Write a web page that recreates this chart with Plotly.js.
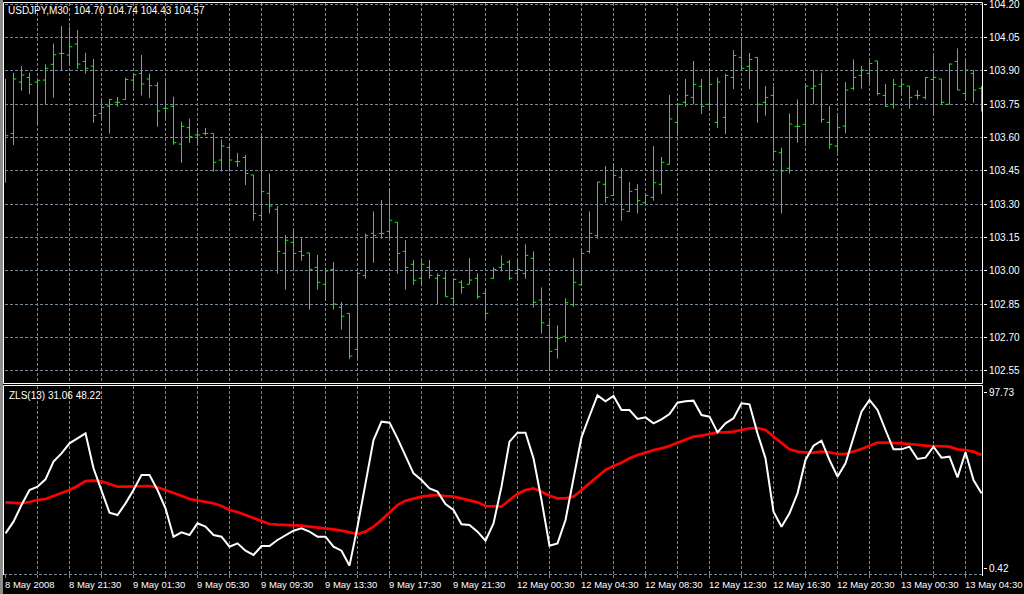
<!DOCTYPE html>
<html>
<head>
<meta charset="utf-8">
<script src="https://cdn.plot.ly/plotly-3.0.1.min.js"></script>
<style>
html,body{margin:0;padding:0;background:#000;}
#chart{width:1024px;height:594px;}
</style>
</head>
<body>
<div id="chart"></div>
<script>
// ---- Data (USDJPY M30 bars, index 0 = 8 May 2008 17:30) ----
const barOpen = [103.750,103.619,103.850,103.871,103.850,103.859,103.930,103.979,103.972,104.021,
103.943,103.922,103.709,103.742,103.759,103.772,103.859,103.889,103.864,103.834,
103.732,103.741,103.571,103.645,103.612,103.619,103.619,103.499,103.555,103.492,
103.511,103.432,103.250,103.349,103.277,103.079,103.129,103.088,103.081,103.016,
102.940,103.007,102.836,102.809,102.647,102.980,103.169,103.169,103.178,103.219,
103.088,103.030,102.967,103.016,102.967,102.967,102.877,102.949,102.940,102.967,
102.899,102.967,103.016,103.040,102.989,102.989,103.057,102.869,102.755,102.647,
102.706,102.848,102.938,103.088,103.160,103.390,103.340,103.421,103.268,103.367,
103.307,103.331,103.390,103.480,103.669,103.759,103.781,103.831,103.750,103.669,
103.691,103.871,103.961,103.921,103.961,103.759,103.790,103.532,103.462,103.651,
103.660,103.822,103.840,103.669,103.562,103.652,103.822,103.880,103.889,103.945,
103.790,103.750,103.831,103.832,103.790,103.781,103.862,103.864,103.750,103.943,
103.799,103.889,103.822];
const barHigh = [103.864,103.891,103.922,103.892,103.859,103.930,104.023,104.102,104.099,104.084,
103.982,103.954,103.777,103.774,103.783,103.870,103.889,103.972,103.889,103.850,
103.858,103.784,103.672,103.685,103.643,103.643,103.619,103.592,103.567,103.531,
103.522,103.432,103.619,103.439,103.292,103.162,103.181,103.147,103.081,103.072,
103.015,103.040,102.860,102.809,102.997,103.169,103.268,103.319,103.372,103.219,
103.139,103.049,103.049,103.049,102.989,102.998,102.962,102.958,103.058,102.989,
102.920,103.016,103.070,103.049,103.049,103.120,103.088,102.926,102.776,102.755,
102.877,103.057,103.102,103.268,103.400,103.472,103.481,103.463,103.400,103.391,
103.349,103.562,103.513,103.792,103.756,103.864,103.945,103.864,103.907,103.871,
103.888,103.994,104.047,103.981,103.961,103.832,103.831,103.555,103.709,103.772,
103.835,103.904,103.892,103.742,103.697,103.850,103.952,103.922,103.945,103.945,
103.841,103.864,103.864,103.832,103.814,103.873,103.972,103.864,103.934,104.002,
103.945,103.904,103.832];
const barLow = [103.397,103.567,103.811,103.796,103.660,103.750,103.780,103.903,103.930,103.910,
103.888,103.667,103.681,103.618,103.739,103.772,103.820,103.790,103.778,103.649,
103.685,103.568,103.487,103.577,103.568,103.610,103.447,103.447,103.447,103.469,
103.387,103.226,103.228,103.259,102.988,102.916,103.006,103.046,102.826,102.916,
102.866,102.826,102.736,102.604,102.607,102.965,103.037,103.145,103.147,102.988,
102.916,102.938,102.931,102.965,102.850,102.884,102.850,102.898,102.940,102.875,
102.785,102.965,102.998,102.958,102.958,102.965,102.835,102.718,102.553,102.605,
102.679,102.839,102.935,103.079,103.145,103.307,103.337,103.226,103.268,103.259,
103.301,103.316,103.346,103.480,103.606,103.739,103.750,103.706,103.727,103.643,
103.616,103.819,103.907,103.819,103.667,103.699,103.499,103.259,103.438,103.577,
103.577,103.750,103.667,103.550,103.532,103.619,103.813,103.820,103.847,103.790,
103.739,103.730,103.795,103.730,103.772,103.772,103.699,103.750,103.750,103.814,
103.768,103.757,103.717];
const barClose = [103.609,103.864,103.882,103.840,103.858,103.912,103.973,103.979,104.009,103.931,
103.912,103.700,103.736,103.772,103.759,103.862,103.883,103.841,103.834,103.720,
103.732,103.577,103.651,103.604,103.612,103.619,103.489,103.562,103.499,103.492,
103.439,103.259,103.357,103.292,103.088,103.138,103.079,103.070,103.007,102.949,
103.000,102.851,102.796,102.617,102.989,103.160,103.160,103.169,103.228,103.079,
103.016,102.958,103.030,102.980,102.980,102.884,102.962,102.926,102.959,102.884,
102.809,103.007,103.030,102.967,103.007,103.070,102.859,102.767,102.638,102.697,
102.857,102.949,103.079,103.169,103.400,103.331,103.430,103.277,103.358,103.316,
103.340,103.397,103.489,103.684,103.750,103.790,103.840,103.741,103.840,103.850,
103.880,103.970,103.912,103.952,103.750,103.781,103.538,103.450,103.661,103.651,
103.832,103.832,103.682,103.570,103.645,103.814,103.871,103.904,103.934,103.798,
103.741,103.840,103.840,103.781,103.790,103.871,103.871,103.759,103.931,103.814,
103.904,103.814,103.825];

// ZLS(13) indicator: main (white) and signal (red)
const zlsMain = [19.80,26.27,35.50,43.81,45.66,49.73,59.51,64.13,69.67,72.44,
75.21,55.82,43.81,31.25,29.96,36.42,43.81,52.12,52.12,43.81,
33.65,17.95,20.35,18.88,25.34,23.49,18.88,17.95,12.41,14.26,
10.20,7.80,12.78,12.78,16.11,18.88,21.28,22.57,20.73,17.95,
17.95,12.41,10.20,1.89,23.49,47.51,71.52,81.68,81.13,72.44,
63.21,53.05,49.36,44.74,42.89,36.06,32.73,24.79,24.42,20.73,
15.74,25.34,45.66,70.60,75.59,75.59,61.36,38.27,12.97,14.26,
27.19,49.36,73.00,84.82,96.27,92.95,95.90,88.14,88.14,83.16,
84.08,80.75,82.97,85.93,92.21,92.95,93.32,85.37,84.45,75.77,
80.75,83.53,91.84,91.29,75.21,61.36,31.81,23.49,30.88,41.97,
60.44,68.38,71.15,60.44,51.20,58.59,72.44,87.22,93.69,88.14,
77.06,66.35,66.35,67.83,60.99,61.73,67.83,61.73,62.29,50.83,
64.69,49.36,41.97];
const zlsSignal = [36.98,36.80,36.42,37.17,38.27,38.83,40.49,41.97,43.81,46.03,
48.80,48.99,48.62,47.14,45.66,45.66,45.66,46.03,46.03,45.29,
43.81,42.34,40.68,38.83,37.90,37.17,36.42,34.95,32.73,31.62,
29.96,28.12,26.27,24.98,24.61,24.42,24.42,24.05,23.49,23.13,
22.57,22.02,21.28,20.17,19.43,20.73,23.49,27.19,31.25,35.50,
37.90,39.20,40.12,40.68,41.05,40.49,40.12,39.20,37.90,36.98,
34.95,34.58,34.58,38.27,41.60,43.81,44.74,42.89,40.68,39.20,
39.20,40.12,43.81,47.51,51.20,54.90,57.11,58.96,61.36,63.21,
64.50,65.98,66.90,68.20,70.04,71.52,73.37,73.92,74.85,75.77,
75.77,76.14,77.06,77.99,78.17,77.06,73.37,69.67,66.35,65.06,
64.50,64.50,65.06,64.69,63.76,63.76,65.06,66.53,68.38,70.04,
70.04,70.04,69.67,69.31,68.75,68.38,68.20,67.83,67.83,66.35,
65.98,65.06,63.21];

const timeTickIndex = [0,8,16,24,32,40,48,56,64,72,80,88,96,104,112,120];
const timeTickText = ['8 May 2008','8 May 21:30','9 May 01:30','9 May 05:30','9 May 09:30',
'9 May 13:30','9 May 17:30','9 May 21:30','12 May 00:30','12 May 04:30','12 May 08:30',
'12 May 12:30','12 May 16:30','12 May 20:30','13 May 00:30','13 May 04:30'];
const priceTicks = [102.55,102.70,102.85,103.00,103.15,103.30,103.45,103.60,103.75,103.90,104.05,104.20];
const zlsTicks = [0.42,97.73];
const headerText = 'USDJPY,M30\u00a0\u00a0104.70 104.74 104.43 104.57';
const zlsLabel = 'ZLS(13) 31.06 48.22';

// ---- Build ----
const W = 1024, H = 594, ML = 5, MR = 41, MT = 3, MB = 20;
const PW = W - ML - MR, PH = H - MT - MB;
const px = v => (v - ML) / PW;
const py = v => (H - MB - v) / PH;

const idx = barOpen.map((_, i) => i);
const GREEN = '#1ee61e';
const GRID = '#778899';
const FONT = 'Liberation Sans, Arial, sans-serif';

const traces = [
  {type:'ohlc', x:idx, open:barOpen, high:barHigh, low:barLow, close:barClose,
   xaxis:'x', yaxis:'y', tickwidth:0.35,
   increasing:{line:{color:GREEN, width:1}}, decreasing:{line:{color:GREEN, width:1}},
   hoverinfo:'skip'},
  {type:'scatter', mode:'lines', x:idx, y:zlsSignal, xaxis:'x', yaxis:'y2',
   line:{color:'#ff0000', width:2.7}, hoverinfo:'skip'},
  {type:'scatter', mode:'lines', x:idx, y:zlsMain, xaxis:'x', yaxis:'y2',
   line:{color:'#ffffff', width:2}, hoverinfo:'skip'}
];

const annotations = [
  {xref:'paper', yref:'paper', x:px(6), y:py(10.5), xanchor:'left', yanchor:'middle',
   text:headerText, showarrow:false, font:{color:'#fff', size:10, family:FONT}},
  {xref:'paper', yref:'paper', x:px(7), y:py(395.5), xanchor:'left', yanchor:'middle',
   text:zlsLabel, showarrow:false, font:{color:'#fff', size:10, family:FONT}}
];
timeTickIndex.forEach((k, i) => {
  annotations.push({xref:'x', yref:'paper', x:k, y:py(584), xanchor:'left', yanchor:'middle',
    xshift:-3, text:timeTickText[i], showarrow:false, font:{color:'#fff', size:9.5, family:FONT}});
});

const shapes = [
  {type:'rect', xref:'paper', yref:'paper', x0:px(0), x1:px(3), y0:py(594), y1:py(0),
   fillcolor:'#8c8c8c', line:{width:0}},
  {type:'rect', xref:'paper', yref:'paper', x0:px(3.5), x1:px(982.5), y0:py(383.5), y1:py(2.5),
   fillcolor:'rgba(0,0,0,0)', line:{color:'#ffffff', width:1}},
  {type:'line', xref:'paper', yref:'paper', x0:px(3.5), x1:px(982.5), y0:py(385.5), y1:py(385.5),
   line:{color:'#ffffff', width:1}},
  {type:'line', xref:'paper', yref:'paper', x0:px(3.5), x1:px(3.5), y0:py(385.5), y1:py(575),
   line:{color:'#ffffff', width:1}},
  {type:'line', xref:'paper', yref:'paper', x0:px(982.5), x1:px(982.5), y0:py(385.5), y1:py(576),
   line:{color:'#ffffff', width:1}},
  {type:'line', xref:'paper', yref:'paper', x0:px(4), x1:px(982), y0:py(574.5), y1:py(574.5),
   line:{color:GRID, width:1, dash:'3px,2px'}}
];

const layout = {
  width:W, height:H,
  margin:{l:ML, r:MR, t:MT, b:MB, pad:0},
  paper_bgcolor:'#000000', plot_bgcolor:'#000000',
  showlegend:false,
  font:{family:FONT, size:10, color:'#ffffff'},
  xaxis:{range:[-0.0625, 122.1875], anchor:'y2', rangeslider:{visible:false},
    tickmode:'linear', tick0:4, dtick:4, showticklabels:false,
    ticks:'outside', ticklen:3, tickcolor:GRID,
    showgrid:true, gridcolor:GRID, gridwidth:1, griddash:'3px,2px',
    zeroline:false, showline:false, fixedrange:true},
  yaxis:{domain:[py(383), 1], range:[102.4957, 104.2059], side:'right', anchor:'x',
    tickmode:'array', tickvals:priceTicks, ticktext:priceTicks.map(v => v.toFixed(2)),
    ticks:'outside', ticklen:3, tickcolor:'#ffffff', ticklabeloverflow:'allow',
    tickfont:{color:'#ffffff', size:10, family:FONT},
    showgrid:true, gridcolor:GRID, gridwidth:1, griddash:'3px,2px',
    zeroline:false, showline:false, fixedrange:true},
  yaxis2:{domain:[0, py(386)], range:[-2.73, 101.44], side:'right', anchor:'x',
    tickmode:'array', tickvals:zlsTicks, ticktext:zlsTicks.map(v => v.toFixed(2)),
    ticks:'outside', ticklen:3, tickcolor:'#ffffff', ticklabeloverflow:'allow',
    tickfont:{color:'#ffffff', size:10, family:FONT},
    showgrid:false, zeroline:false, showline:false, fixedrange:true},
  annotations:annotations,
  shapes:shapes
};

Plotly.newPlot('chart', traces, layout, {staticPlot:true, displayModeBar:false});
</script>
</body>
</html>
